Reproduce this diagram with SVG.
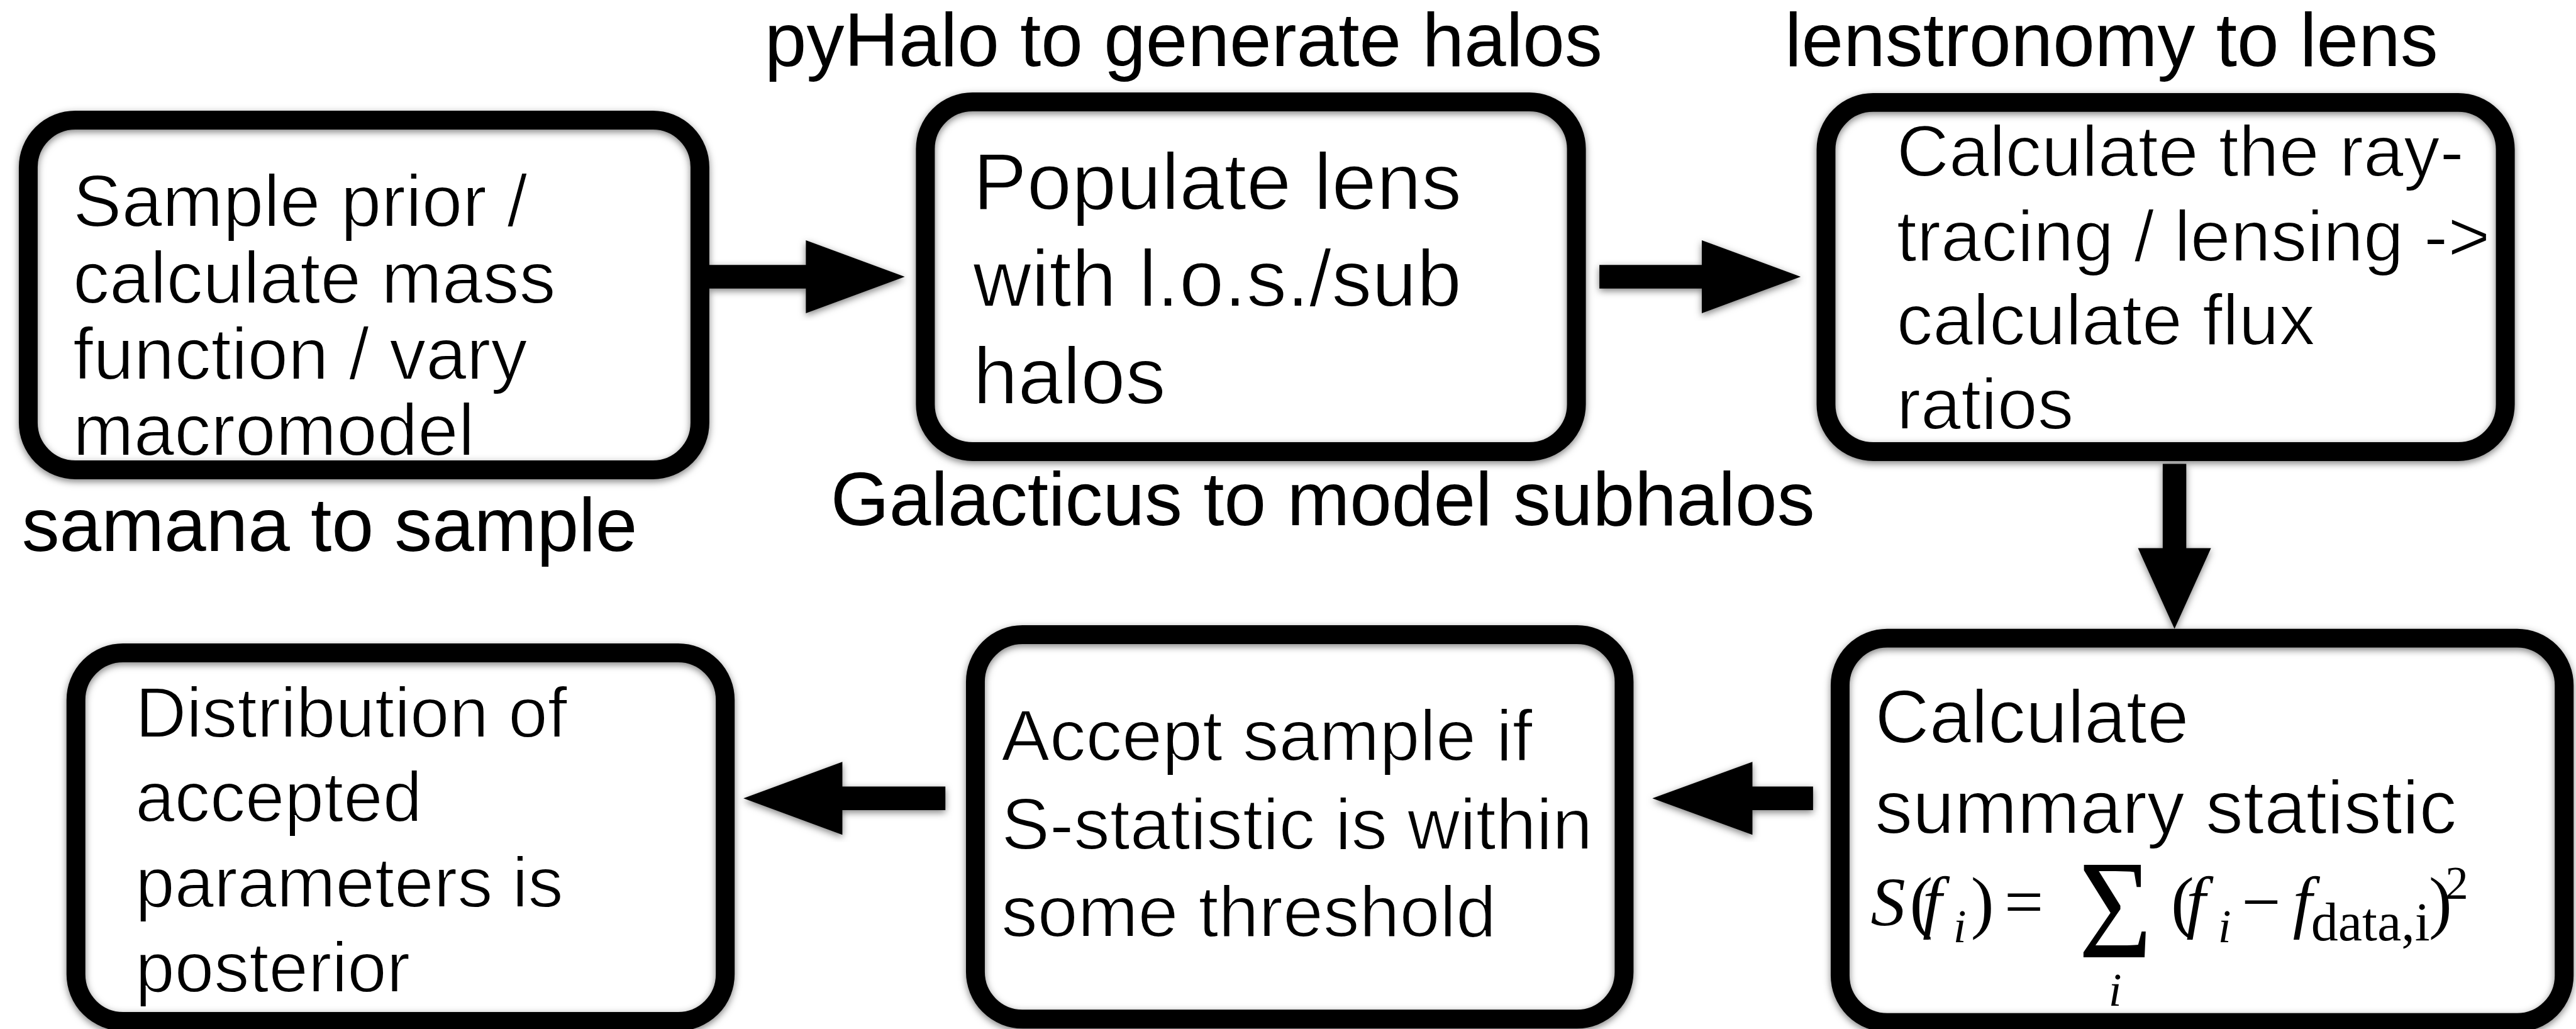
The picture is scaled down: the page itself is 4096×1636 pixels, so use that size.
<svg xmlns="http://www.w3.org/2000/svg" width="4096" height="1636" viewBox="0 0 4096 1636">
<defs>
<filter id="sh" x="-10%" y="-10%" width="120%" height="120%">
<feDropShadow dx="0" dy="4" stdDeviation="6" flood-color="#000" flood-opacity="0.5"/>
</filter>
<style>
.box{fill:none;stroke:#000;stroke-width:32;filter:url(#sh)}
.arr{fill:#000;filter:url(#sh)}
.lbl{font-family:"Liberation Sans",Arial,sans-serif;font-size:128px;fill:#000}
.bt{font-family:"Liberation Sans",Arial,sans-serif;fill:#000;stroke:#fff;stroke-width:2px}
.eq{font-family:"Liberation Serif","Times New Roman",serif;fill:#000}
.it{font-style:italic}
</style>
</defs>
<rect width="4096" height="1636" fill="#fff"/>
<g transform="scale(0.936)">
<g id="labels">
<text class="lbl" x="1299" y="112">pyHalo to generate halos</text>
<text class="lbl" x="3032" y="112">lenstronomy to lens</text>
<text class="lbl" x="37" y="936">samana to sample</text>
<text class="lbl" x="1411" y="892">Galacticus to model subhalos</text>
</g>
<g id="connectors">
<polygon class="arr" points="1204,450 1369,450 1369,408 1537,470 1369,532 1369,490 1204,490"/>
<polygon class="arr" points="2717,450 2891,450 2891,408 3059,470 2891,532 2891,490 2717,490"/>
<polygon class="arr" points="3674,788 3714,788 3714,931 3756,931 3694,1068 3632,931 3674,931"/>
<polygon class="arr" points="3080,1336 2977,1336 2977,1294 2807,1356 2977,1418 2977,1376 3080,1376"/>
<polygon class="arr" points="1606,1336 1431,1336 1431,1294 1263,1356 1431,1418 1431,1376 1606,1376"/>
</g>
<g id="node-sample">
<rect class="box" x="48" y="204" width="1141" height="594" rx="80"/>
<text class="bt" font-size="124">
<tspan x="124" y="385">Sample prior /</tspan>
<tspan x="124" y="515">calculate mass</tspan>
<tspan x="124" y="644">function / vary</tspan>
<tspan x="124" y="773">macromodel</tspan>
</text>
</g>
<g id="node-populate">
<rect class="box" x="1572" y="173" width="1106" height="594" rx="80"/>
<text class="bt" font-size="137">
<tspan x="1653" y="356">Populate lens</tspan>
<tspan x="1653" y="520">with l.o.s./sub</tspan>
<tspan x="1653" y="686">halos</tspan>
</text>
</g>
<g id="node-raytrace">
<rect class="box" x="3102" y="174" width="1154" height="593" rx="80"/>
<text class="bt" font-size="123">
<tspan x="3222" y="299">Calculate the ray-</tspan>
<tspan x="3222" y="443">tracing / lensing -&gt;</tspan>
<tspan x="3222" y="586">calculate flux</tspan>
<tspan x="3222" y="729">ratios</tspan>
</text>
</g>
<g id="node-summary">
<rect class="box" x="3126" y="1084" width="1230" height="653" rx="80"/>
<text class="bt" font-size="128">
<tspan x="3185" y="1262">Calculate</tspan>
<tspan x="3185" y="1416">summary statistic</tspan>
</text>
<text class="eq" font-size="118"><tspan class="it" x="3178" y="1572">S</tspan><tspan x="3244" y="1572">(</tspan><tspan class="it" x="3266" y="1572">f</tspan><tspan class="it" x="3318" y="1600" font-size="80">i</tspan><tspan x="3348" y="1572">)</tspan><tspan x="3405" y="1572">=</tspan><tspan x="3531" y="1626" font-size="240" textLength="125" lengthAdjust="spacingAndGlyphs">Σ</tspan><tspan class="it" x="3582" y="1708" font-size="80">i</tspan><tspan x="3688" y="1572">(</tspan><tspan class="it" x="3714" y="1572">f</tspan><tspan class="it" x="3768" y="1600" font-size="80">i</tspan><tspan x="3808" y="1572">−</tspan><tspan class="it" x="3895" y="1572">f</tspan><tspan x="3926" y="1597" font-size="92">data,i</tspan><tspan x="4126" y="1572">)</tspan><tspan x="4154" y="1527" font-size="78">2</tspan></text>
</g>
<g id="node-accept">
<rect class="box" x="1657" y="1078" width="1102" height="653" rx="80"/>
<text class="bt" font-size="123">
<tspan x="1701" y="1292">Accept sample if</tspan>
<tspan x="1701" y="1442">S-statistic is within</tspan>
<tspan x="1701" y="1591">some threshold</tspan>
</text>
</g>
<g id="node-posterior">
<rect class="box" x="129" y="1109" width="1103" height="626" rx="80"/>
<text class="bt" font-size="120">
<tspan x="230" y="1252">Distribution of</tspan>
<tspan x="230" y="1395">accepted</tspan>
<tspan x="230" y="1541">parameters is</tspan>
<tspan x="230" y="1685">posterior</tspan>
</text>
</g>
</g>
</svg>
